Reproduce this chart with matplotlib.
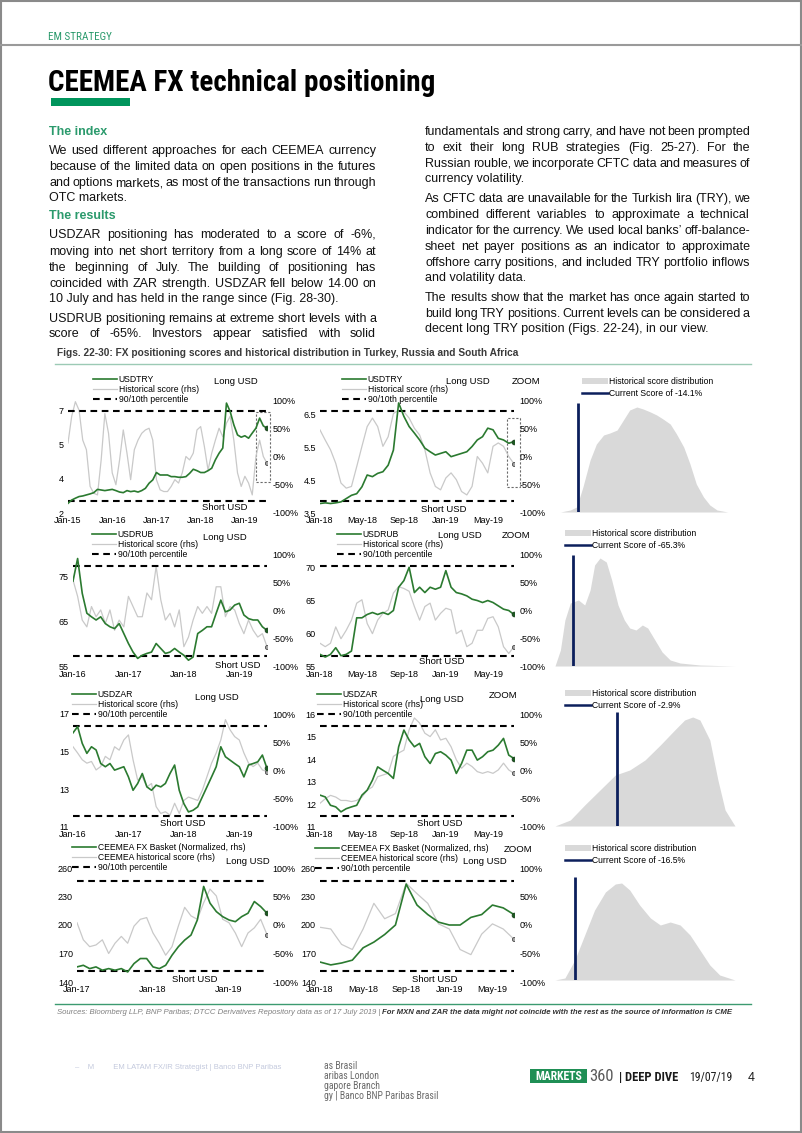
import numpy as np
import matplotlib.pyplot as plt
from matplotlib import font_manager
from matplotlib.lines import Line2D
from matplotlib.patches import Rectangle, Patch

W, H = 802, 1133

installed = {f.name for f in font_manager.fontManager.ttflist}
def pick(*names):
    for n in names:
        if n in installed:
            return n
    return 'DejaVu Sans'

BODY = pick('Liberation Sans', 'Arial', 'DejaVu Sans')
NARROW = pick('Liberation Sans Narrow', 'DejaVu Sans Condensed', 'Roboto Condensed', 'Liberation Sans')
plt.rcParams['font.family'] = [BODY, 'DejaVu Sans']

# ---------------- data ----------------
# USDTRY monthly Jan-15 .. Jul-19, score in % (rhs)
try_px = [2.47, 2.63, 2.72, 2.80, 2.83, 2.88, 2.93, 2.99, 3.15, 3.12, 3.09, 3.12,
          3.15, 3.09, 3.02, 2.99, 3.09, 3.04, 3.07, 3.02, 3.09, 3.20, 3.45, 3.61,
          3.97, 3.85, 3.85, 3.85, 3.77, 3.77, 3.74, 3.74, 3.77, 3.93, 4.13, 4.06,
          3.97, 3.97, 4.06, 4.18, 4.59, 4.91, 5.16, 7.35, 6.94, 6.29, 5.80, 5.69,
          5.76, 5.64, 5.89, 6.13, 6.62, 6.24, 6.13]
try_sc = [24, 71, 97, 82, 29, 12, -53, -65, -68, -6, 76, 41,
          -29, -50, -6, 47, 6, -41, 12, 29, 41, 47, 50, 29,
          -41, -59, -62, -62, -53, -41, -47, -29, 0, -6, 6, 47,
          53, 18, -24, 6, 29, 50, 35, 59, 71, 29, -29, -53,
          -35, -47, -68, 0, 29, 0, -12]
# USDTRY zoom, twice a month Jan-18 .. Jul-19
tryz_px = [3.79, 3.81, 3.79, 3.81, 3.84, 3.94, 4.04, 4.09, 4.30, 4.66, 4.61, 4.71,
           4.76, 4.96, 5.42, 6.86, 6.45, 6.14, 5.94, 5.73, 5.48, 5.37, 5.27, 5.32,
           5.37, 5.22, 5.27, 5.32, 5.37, 5.53, 5.73, 5.83, 6.09, 6.04, 5.78, 5.73,
           5.63, 5.68]
tryz_sc = [47, 29, 12, -12, -47, -56, -53, -18, 18, 53, 68, 53,
           18, 35, 76, 82, 79, 68, 50, 38, 12, -29, -53, -59,
           -38, -29, -41, -62, -68, -53, 0, -12, -29, 18, 24, 18,
           0, -13]

# USDRUB monthly Jan-16 .. Jul-19
rub_px = [74.0, 79.0, 71.3, 66.9, 66.1, 65.4, 66.1, 64.6, 63.9, 63.5, 64.6, 62.4,
          60.2, 58.3, 56.9, 57.6, 58.0, 58.3, 60.2, 59.1, 58.0, 58.3, 59.1, 58.3,
          57.6, 56.5, 57.2, 62.4, 63.1, 63.9, 63.9, 66.9, 69.8, 67.2, 67.6, 68.7,
          69.1, 66.5, 65.7, 65.4, 65.4, 63.9, 63.1]
rub_sc = [54, 25, -17, -29, 7, -11, 1, -23, 1, -35, -17, -29,
          25, 7, -11, -11, 31, 19, 78, 19, -17, -5, -29, 1,
          -64, -47, -17, 7, -5, 7, -5, 42, 42, -11, 7, 1,
          -23, -41, -17, -35, -47, -41, -64]
rubz_px = [56.9, 56.5, 56.9, 57.9, 56.7, 56.9, 57.4, 62.4, 62.4, 62.9, 63.2, 62.9,
           63.2, 62.9, 63.5, 67.0, 68.0, 70.0, 66.2, 67.0, 66.2, 67.0, 66.7, 67.0,
           69.5, 67.0, 66.2, 66.0, 65.7, 65.2, 65.0, 64.7, 65.0, 64.7, 64.2, 63.7,
           63.5, 62.9]
rubz_sc = [-58, -64, -58, -29, -50, -35, -17, 13, 19, -23, -41, -17,
           -5, 1, 31, 42, 39, 34, 7, -17, 7, 13, -17, -5,
           4, 1, -41, -35, -64, -58, -35, -35, -14, -11, -29, -64,
           -76, -64]

# USDZAR monthly Jan-16 .. Jul-19
zar_px = [16.0, 16.33, 15.44, 14.91, 15.26, 15.09, 14.37, 14.20, 14.37, 14.02, 14.11, 14.20,
          13.66, 12.95, 13.31, 13.84, 13.13, 12.95, 13.22, 13.13, 13.31, 13.84, 14.29, 12.95,
          12.24, 11.80, 11.89, 12.07, 12.60, 13.13, 13.66, 14.20, 15.26, 14.73, 14.55, 14.37,
          14.20, 13.66, 14.29, 14.37, 14.46, 14.82, 14.11]
zar_sc = [42, 31, 19, 13, 16, 1, 7, 25, 19, 42, 36, 54,
          63, 19, -17, -11, -29, -23, -64, -76, -73, -79, -58, -76,
          -53, -47, -50, -53, -35, -11, 13, 31, 54, 90, 72, 60,
          54, 31, 13, 7, 13, 1, -2]
zarz_px = [12.41, 12.33, 11.96, 11.89, 11.67, 11.81, 11.89, 11.96, 12.41, 12.63, 13.07, 13.66,
           13.51, 13.37, 13.15, 14.55, 15.29, 14.85, 14.55, 14.70, 14.11, 13.81, 14.25, 14.33,
           14.18, 13.96, 13.37, 13.81, 14.40, 14.40, 13.96, 14.11, 14.33, 14.40, 14.62, 14.92,
           14.18, 14.03]
zarz_sc = [-58, -50, -44, -47, -53, -53, -55, -53, -47, -35, -29, -11,
           -8, -5, 25, 31, 36, 72, 93, 84, 66, 60, 72, 54,
           57, 42, 19, 4, 13, 7, -2, -5, -2, -5, 1, 13,
           1, -5]

# CEEMEA FX basket monthly Jan-17 .. Jul-19
cee_px = [155.9, 157.6, 154.1, 155.9, 152.4, 154.1, 152.4, 154.1, 150.6, 159.4, 164.7, 164.7,
          155.9, 154.1, 157.6, 168.2, 177.1, 184.1, 189.4, 205.3, 240.6, 223.0, 214.1, 208.8,
          205.3, 203.5, 208.8, 212.4, 224.7, 219.4, 212.4]
cee_sc = [4, -26, -38, -35, -26, -50, -32, -20, -32, -2, 10, 13,
          -14, -32, -53, -38, -2, 31, 16, 10, 39, 63, 51, 10,
          4, -14, -38, -14, -5, 10, -17]
# CEEMEA zoom monthly Jan-18 .. Jul-19
ceez_px = [161, 158, 160, 163, 176, 182, 190, 200, 243, 221, 211, 203,
           200, 200, 208, 211, 221, 218, 211]
ceez_sc = [-4, -7, -34, -43, -7, 38, 11, 20, 73, 55, 38, 2,
           -7, -43, -52, -16, 2, -7, -25]

# 90th / 10th percentile of the score
pct_try = [80.5, -78.7]
pct_rub = [79, -80.5]
pct_zar = [79, -80.5]
pct_cee = [77, -81]

# historical score distributions (score, density in arbitrary units)
dist_try_x = [-94, -83, -76, -69, -61, -54, -46, -39, -31, -24, -17, -9, -2,
              6, 13, 20, 28, 35, 43, 50, 57, 65, 72, 80, 92]
dist_try_y = [0, 2, 5, 25, 52, 68, 77, 79, 82, 92, 102, 105, 103,
              100, 97, 93, 88, 78, 65, 48, 28, 15, 7, 2, 0]
dist_rub_x = [-100, -94, -89, -83, -74, -67, -61, -56, -50, -43, -37, -30, -23,
              -17, -10, -3, 3, 11, 19, 28, 39, 61, 100]
dist_rub_y = [0, 16, 46, 63, 66, 61, 76, 101, 108, 104, 86, 61, 46,
              38, 36, 41, 38, 26, 14, 6, 3, 1, 0]
dist_zar_x = [-100, -83, -67, -50, -33, -17, 0, 17, 33, 44, 53, 61, 72, 81, 89, 100]
dist_zar_y = [0, 6, 21, 36, 51, 56, 66, 81, 96, 106, 109, 106, 86, 46, 16, 0]
dist_cee_x = [-100, -89, -78, -67, -56, -44, -33, -26, -17, -6, 6, 17, 28,
              39, 50, 61, 72, 83, 100]
dist_cee_y = [0, 2, 20, 45, 70, 88, 96, 97, 90, 75, 62, 55, 58,
              55, 45, 30, 15, 5, 0]
# current score marker: position on the distribution axis and its height
cur_pos = [-74, -80, -31, -78]
cur_height = [109, 111, 114, 103]
cur_labels = ['Current Score of -14.1%', 'Current Score of -65.3%',
              'Current Score of -2.9%', 'Current Score of -16.5%']

full_ticks = {2015: 'Jan-15', 2016: 'Jan-16', 2017: 'Jan-17', 2018: 'Jan-18', 2019: 'Jan-19'}
zoom_ticks = ['Jan-18', 'May-18', 'Sep-18', 'Jan-19', 'May-19']

# ---------------- figure ----------------
GREEN = '#2b7a30'
GREEN_END = '#1d5a22'
GREY = '#c9c9c9'
NAVY = '#0c1f5c'
TEAL = '#2b9a6c'
DASH = (0, (3.2, 2.2))

fig = plt.figure(figsize=(W / 100, H / 100), dpi=100)
fig.patch.set_facecolor('white')
renderer = fig.canvas.get_renderer()


def fx(x):
    return x / W


def fy(y):
    return 1 - y / H


def ftext(x, y, s, **kw):
    return fig.text(fx(x), fy(y), s, **kw)


def add_ax(x0, y0, x1, y1):
    return fig.add_axes([fx(x0), fy(y1), (x1 - x0) / W, (y1 - y0) / H])


def hline(x0, x1, y, **kw):
    fig.add_artist(Line2D([fx(x0), fx(x1)], [fy(y), fy(y)], transform=fig.transFigure, **kw))


def justify(line, x0, x1, y, **kw):
    words = line.split(' ')
    ts = [fig.text(0, 0, w, va='baseline', **kw) for w in words]
    widths = [t.get_window_extent(renderer).width for t in ts]
    gap = (x1 - x0 - sum(widths)) / (len(words) - 1)
    x = x0
    for t, w in zip(ts, widths):
        t.set_position((fx(x), fy(y)))
        x += w + gap


# page frame and header
fig.add_artist(Rectangle((0.001, 0.001), 0.998, 0.998, transform=fig.transFigure,
                         fill=False, ec='#8a8a8a', lw=1.5))
hline(0, W, 45, color='#9a9a9a', lw=1.5)
ftext(48, 40, 'EM STRATEGY', family=NARROW, fontsize=8, color=TEAL, va='baseline')
ftext(48, 91, 'CEEMEA FX technical positioning', family=NARROW, fontsize=21,
      fontweight='bold', color='black', va='baseline')
fig.add_artist(Rectangle((fx(51), fy(106)), 79 / W, 8 / H, transform=fig.transFigure,
                         color='#00955c', lw=0))

# body text
left_lines = [
    ('h', 'The index', 135),
    ('j', 'We used different approaches for each CEEMEA currency', 154),
    ('j', 'because of the limited data on open positions in the futures', 170),
    ('j', 'and options markets, as most of the transactions run through', 186),
    ('l', 'OTC markets.', 201),
    ('h', 'The results', 219),
    ('j', 'USDZAR positioning has moderated to a score of -6%,', 238),
    ('j', 'moving into net short territory from a long score of 14% at', 255),
    ('j', 'the beginning of July. The building of positioning has', 271),
    ('j', 'coincided with ZAR strength. USDZAR fell below 14.00 on', 287),
    ('l', '10 July and has held in the range since (Fig. 28-30).', 302),
    ('j', 'USDRUB positioning remains at extreme short levels with a', 322),
    ('j', 'score of -65%. Investors appear satisfied with solid', 337),
]
right_lines = [
    ('j', 'fundamentals and strong carry, and have not been prompted', 135),
    ('j', 'to exit their long RUB strategies (Fig. 25-27). For the', 151),
    ('j', 'Russian rouble, we incorporate CFTC data and measures of', 167),
    ('l', 'currency volatility.', 182),
    ('j', 'As CFTC data are unavailable for the Turkish lira (TRY), we', 202),
    ('j', 'combined different variables to approximate a technical', 218),
    ('j', 'indicator for the currency. We used local banks\u2019 off-balance-', 234),
    ('j', 'sheet net payer positions as an indicator to approximate', 250),
    ('j', 'offshore carry positions, and included TRY portfolio inflows', 266),
    ('l', 'and volatility data.', 281),
    ('j', 'The results show that the market has once again started to', 301),
    ('j', 'build long TRY positions. Current levels can be considered a', 317),
    ('l', 'decent long TRY position (Figs. 22-24), in our view.', 332),
]
for lines, x0, x1 in ((left_lines, 49, 376), (right_lines, 425, 750)):
    for kind, s, y in lines:
        if kind == 'h':
            ftext(x0, y, s, fontsize=9, fontweight='bold', color=TEAL, va='baseline')
        elif kind == 'j':
            justify(s, x0, x1, y, fontsize=9, color='#111111')
        else:
            ftext(x0, y, s, fontsize=9, color='#111111', va='baseline')

ftext(57, 356, 'Figs. 22-30: FX positioning scores and historical distribution in Turkey, Russia and South Africa',
      fontsize=7.3, fontweight='bold', color='#3a3a3a', va='baseline')
hline(55, 751, 364, color='#9ccab5', lw=1)


# ---------------- time-series panels ----------------
def ts_panel(box, dates, price, score, pct, ylim, yt, ytl, xt, xtl, leg, labels, notes, zbox=None):
    x0, y0, x1, y1 = box
    ax = add_ax(x0, y0, x1, y1)
    ax2 = ax.twinx()
    sc = np.array(score) / 100
    ax.plot(dates, sc, color=GREY, lw=0.9)
    ax.plot(dates[-1], sc[-1], 'o', ms=3, mfc='#a5a5a5', mec='#4a4a4a', mew=0.6)
    for p in pct:
        ax.axhline(p / 100, color='black', lw=1.5, ls=DASH)
    if zbox is not None:
        bx0, bx1, by0, by1 = zbox
        ax.add_patch(Rectangle((bx0, by0 / 100), bx1 - bx0, (by1 - by0) / 100, fill=False,
                               ec='#6a6a6a', lw=0.8, ls=(0, (2, 1.6)), clip_on=False))
    ax.set_xlim(dates[0], dates[-1])
    ax.set_ylim(-1, 1)
    ax.set_yticks([1, 0.5, 0, -0.5, -1], ['100%', '50%', '0%', '-50%', '-100%'])
    ax.set_xticks(xt, xtl)

    ax2.plot(dates, price, color=GREEN, lw=1.2)
    ax2.plot(dates[-1], price[-1], 'o', ms=3.4, mfc=GREEN_END, mec='#1a3d1c', mew=0.6)
    ax2.set_ylim(ylim)
    ax2.set_yticks(yt, ytl)

    # percentages on the right, price on the left
    ax.yaxis.tick_right()
    ax.yaxis.set_label_position('right')
    ax2.yaxis.tick_left()
    ax2.yaxis.set_label_position('left')
    ax.tick_params(length=0, labelsize=6.5, pad=2.5)
    ax.tick_params(axis='y', pad=4)
    ax2.tick_params(length=0, labelsize=6.5, pad=3)
    for a in (ax, ax2):
        for s in a.spines.values():
            s.set_visible(False)
    ax.patch.set_visible(False)

    handles = [Line2D([], [], color=GREEN, lw=1.2),
               Line2D([], [], color=GREY, lw=0.9),
               Line2D([], [], color='black', lw=1.5, ls=DASH)]
    fig.legend(handles, labels, loc='upper left', bbox_to_anchor=(fx(leg[0]), fy(leg[1])),
               frameon=False, fontsize=6.2, handlelength=2.8, handletextpad=0.2,
               labelspacing=0.1, borderpad=0, borderaxespad=0)
    for s, x, y in notes:
        ftext(x, y, s, fontsize=6.8, ha='center', va='center')


def fdates(start, n, per_year):
    return start + np.arange(n) / per_year


zoom_xt = [2018, 2018 + 4 / 12, 2018 + 8 / 12, 2019, 2019 + 4 / 12]
col1_lab = lambda name: [name, 'Historical score (rhs)', '90/10th percentile']

d = fdates(2015, len(try_px), 12)
ts_panel((68, 400, 267, 513), d, try_px, try_sc, pct_try, (2, 7.5), [2, 3.667, 5.333, 7],
         ['2', '4', '5', '7'], list(full_ticks), list(full_ticks.values()), (93, 375),
         col1_lab('USDTRY'), [('Long USD', 236, 382), ('Short USD', 225, 508)],
         zbox=(2019.25, 2019.57, -45, 79))
d = fdates(2018, len(tryz_px), 24)
ts_panel((320, 400, 514, 513), d, tryz_px, tryz_sc, pct_try, (3.5, 6.95), [3.5, 4.5, 5.5, 6.5],
         ['3.5', '4.5', '5.5', '6.5'], zoom_xt, zoom_ticks, (342, 375),
         col1_lab('USDTRY'), [('Long USD', 468, 382), ('ZOOM', 526, 381), ('Short USD', 444, 510)],
         zbox=(2019.486, 2019.59, -54, 68))

d = fdates(2016, len(rub_px), 12)
ts_panel((73, 554, 267, 667), d, rub_px, rub_sc, pct_rub, (55, 80), [55, 65, 75],
         ['55', '65', '75'], [2016, 2017, 2018, 2019], ['Jan-16', 'Jan-17', 'Jan-18', 'Jan-19'],
         (92, 530), col1_lab('USDRUB'), [('Long USD', 225, 538), ('Short USD', 238, 665)])
d = fdates(2018, len(rubz_px), 24)
ts_panel((320, 554, 514, 667), d, rubz_px, rubz_sc, pct_rub, (55, 72), [55, 60, 65, 70],
         ['55', '60', '65', '70'], zoom_xt, zoom_ticks, (337, 530),
         col1_lab('USDRUB'), [('Long USD', 460, 536), ('ZOOM', 516, 535), ('Short USD', 442, 662)])

d = fdates(2016, len(zar_px), 12)
ts_panel((73, 714, 267, 827), d, zar_px, zar_sc, pct_zar, (11, 17), [11, 13, 15, 17],
         ['11', '13', '15', '17'], [2016, 2017, 2018, 2019], ['Jan-16', 'Jan-17', 'Jan-18', 'Jan-19'],
         (72, 690), col1_lab('USDZAR'), [('Long USD', 217, 697), ('Short USD', 183, 823)])
d = fdates(2018, len(zarz_px), 24)
ts_panel((320, 714, 514, 827), d, zarz_px, zarz_sc, pct_zar, (11, 16), [11, 12, 13, 14, 15, 16],
         ['11', '12', '13', '14', '15', '16'], zoom_xt, zoom_ticks, (317, 690),
         col1_lab('USDZAR'), [('Long USD', 442, 699), ('ZOOM', 503, 695), ('Short USD', 440, 824)])

cee_lab = ['CEEMEA FX Basket (Normalized, rhs)', 'CEEMEA historical score (rhs)', '90/10th percentile']
d = fdates(2017, len(cee_px), 12)
ts_panel((77, 868, 267, 982), d, cee_px, cee_sc, pct_cee, (140, 260), [140, 170, 200, 230, 260],
         ['140', '170', '200', '230', '260'], [2017, 2018, 2019], ['Jan-17', 'Jan-18', 'Jan-19'],
         (72, 843), cee_lab, [('Long USD', 248, 862), ('Short USD', 195, 979)])
d = fdates(2018, len(ceez_px), 12)
ts_panel((320, 868, 514, 982), d, ceez_px, ceez_sc, pct_cee, (140, 260), [140, 170, 200, 230, 260],
         ['140', '170', '200', '230', '260'], zoom_xt, zoom_ticks, (315, 844),
         cee_lab, [('Long USD', 485, 862), ('ZOOM', 518, 850), ('Short USD', 435, 980)])

# ---------------- distribution panels ----------------
dists = [(dist_try_x, dist_try_y, 512, (582, 377)),
         (dist_rub_x, dist_rub_y, 666, (565, 529)),
         (dist_zar_x, dist_zar_y, 826, (565, 689)),
         (dist_cee_x, dist_cee_y, 980, (565, 844))]
for i, (xs, ys, base, leg) in enumerate(dists):
    ax = add_ax(555, base - 120, 735, base)
    ax.fill_between(xs, ys, color='#d9d9d9', lw=0)
    ax.plot([cur_pos[i], cur_pos[i]], [0, cur_height[i]], color=NAVY, lw=2, solid_capstyle='butt')
    ax.set_xlim(-100, 100)
    ax.set_ylim(0, 120)
    ax.axis('off')
    handles = [Patch(color='#d9d9d9', lw=0), Line2D([], [], color=NAVY, lw=1.8)]
    fig.legend(handles, ['Historical score distribution', cur_labels[i]], loc='upper left',
               bbox_to_anchor=(fx(leg[0]), fy(leg[1])), frameon=False, fontsize=6.2,
               handlelength=3.0, handleheight=0.6, handletextpad=0.1, labelspacing=0.3,
               borderpad=0, borderaxespad=0)

# ---------------- sources and footer ----------------
hline(55, 751, 1004, color='#3c9a70', lw=1)
t1 = ftext(57, 1014, 'Sources: Bloomberg LLP, BNP Paribas; DTCC Derivatives Repository data as of 17 July 2019 | ',
           fontsize=5.6, style='italic', color='#808080', va='baseline')
w1 = t1.get_window_extent(renderer).width
ftext(57 + w1, 1014, 'For MXN and ZAR the data might not coincide with the rest as the source of information is CME',
      fontsize=5.6, style='italic', fontweight='bold', color='#333333', va='baseline')

ftext(75, 1069, '\u2013    M         EM LATAM FX/IR Strategist | Banco BNP Paribas',
      fontsize=5.5, color='#c3c9dd', va='baseline')
for s, y in (('as Brasil', 1069), ('aribas London', 1079), ('gapore Branch', 1089),
             ('gy | Banco BNP Paribas Brasil', 1099)):
    ftext(324, y, s, family=NARROW, fontsize=7, color='#6a6a6a', va='baseline')

fig.add_artist(Rectangle((fx(530), fy(1083)), 57 / W, 14 / H, transform=fig.transFigure,
                         color='#1f8f55', lw=0))
ftext(558.5, 1076, 'MARKETS', family=NARROW, fontsize=8.5, fontweight='bold', color='white',
      ha='center', va='center')
ftext(589, 1081, '360', family=NARROW, fontsize=12, color='#5a5a5a', va='baseline')
ftext(619, 1081, '| DEEP DIVE', family=NARROW, fontsize=9, fontweight='bold', color='#1a1a1a',
      va='baseline')
ftext(689, 1081, '19/07/19', family=NARROW, fontsize=8.5, color='#1a1a1a', va='baseline')
ftext(748, 1081, '4', fontsize=9, color='#1a1a1a', va='baseline')

fig.savefig('out.png', dpi=100, facecolor='white')
